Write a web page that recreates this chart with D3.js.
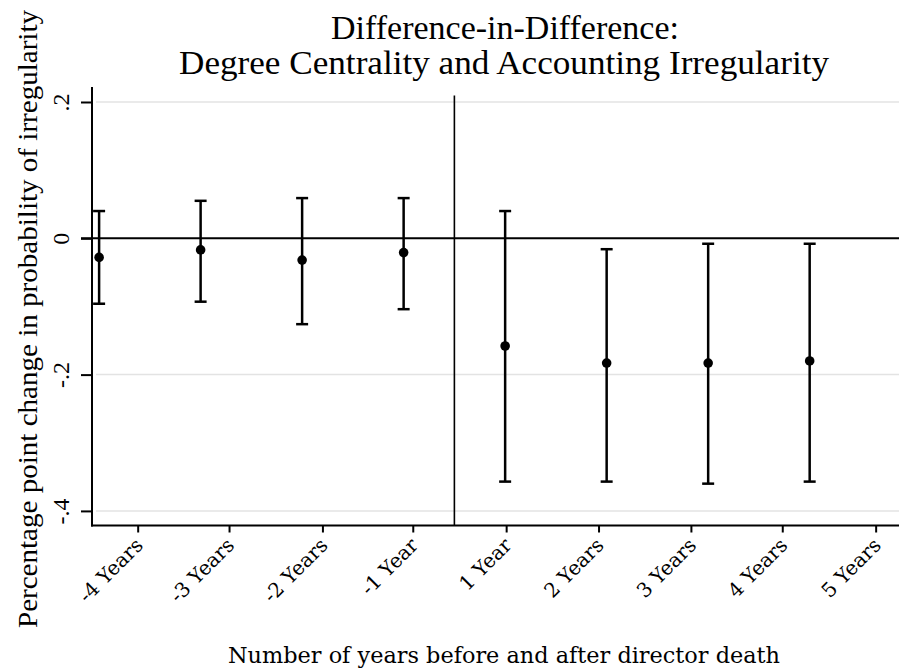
<!DOCTYPE html>
<html>
<head>
<meta charset="utf-8">
<script src="https://cdn.jsdelivr.net/npm/d3@7"></script>
<style>
  body { margin: 0; background: #fff; }
  svg { display: block; }
  .times { font-family: "Liberation Serif", "Times New Roman", Times, serif; }
  .slab { font-family: "DejaVu Serif", serif; }
</style>
</head>
<body>
<svg width="899" height="670"></svg>
<script>
// event time (index) for each estimate
var periods = [1, 2, 3, 4, 5, 6, 7, 8];
var coef    = [-0.028, -0.017, -0.032, -0.021, -0.158, -0.183, -0.183, -0.180];
var ciHigh  = [0.040, 0.055, 0.059, 0.059, 0.040, -0.016, -0.008, -0.008];
var ciLow   = [-0.096, -0.093, -0.126, -0.104, -0.357, -0.357, -0.360, -0.357];

var xTickPos    = [1.38, 2.28, 3.20, 4.09, 5.01, 5.92, 6.83, 7.73, 8.65];
var xTickLabels = ["-4 Years", "-3 Years", "-2 Years", "-1 Year", "1 Year", "2 Years", "3 Years", "4 Years", "5 Years"];
var yTicks      = [0.2, 0, -0.2, -0.4];
var yTickLabels = [".2", "0", "-.2", "-.4"];
var eventLine   = 4.5;

var svg = d3.select("svg");

var plotL = 92, plotR = 899, plotT = 87, plotB = 525.5;

var x = d3.scaleLinear().domain([0.93, 8.88]).range([plotL, plotR]);
var y = d3.scaleLinear().domain([-0.4214, 0.222]).range([plotB, plotT]);

// grid lines
svg.append("g").selectAll("line")
    .data(yTicks.filter(function(d) { return d !== 0; }))
  .enter().append("line")
    .attr("x1", plotL + 4).attr("x2", plotR)
    .attr("y1", function(d) { return y(d); })
    .attr("y2", function(d) { return y(d); })
    .attr("stroke", "#e3e3e3")
    .attr("stroke-width", 1.5);

// zero line
svg.append("line")
    .attr("x1", plotL - 11).attr("x2", plotR)
    .attr("y1", y(0)).attr("y2", y(0))
    .attr("stroke", "#000").attr("stroke-width", 2);

// vertical line at director death
svg.append("line")
    .attr("x1", x(eventLine)).attr("x2", x(eventLine))
    .attr("y1", 95.5).attr("y2", plotB)
    .attr("stroke", "#000").attr("stroke-width", 1.6);

// y axis
var yAxis = d3.axisLeft(y)
    .tickValues(yTicks)
    .tickSize(11)
    .tickFormat(function(d, i) { return yTickLabels[i]; });

var gy = svg.append("g")
    .attr("transform", "translate(" + plotL + ",0)")
    .call(yAxis);
gy.attr("font-family", null).attr("font-size", null);
gy.select(".domain").remove();
gy.selectAll(".tick line").attr("stroke", "#000").attr("stroke-width", 2);
gy.append("line")
    .attr("x1", 0).attr("x2", 0)
    .attr("y1", plotT).attr("y2", plotB + 1)
    .attr("stroke", "#000").attr("stroke-width", 2);
gy.selectAll(".tick text")
    .attr("x", null).attr("dy", null)
    .attr("class", "times")
    .attr("transform", "translate(-23,0) rotate(-90)")
    .attr("text-anchor", "middle")
    .attr("fill", "#000")
    .style("font-size", "24px");

// x axis
var xAxis = d3.axisBottom(x)
    .tickValues(xTickPos)
    .tickSize(7)
    .tickFormat(function(d, i) { return xTickLabels[i]; });

var gx = svg.append("g")
    .attr("transform", "translate(0," + plotB + ")")
    .call(xAxis);
gx.attr("font-family", null).attr("font-size", null);
gx.select(".domain").remove();
gx.selectAll(".tick line").attr("stroke", "#000").attr("stroke-width", 2);
gx.append("line")
    .attr("x1", plotL - 1).attr("x2", plotR)
    .attr("y1", 0).attr("y2", 0)
    .attr("stroke", "#000").attr("stroke-width", 2);
gx.selectAll(".tick text")
    .attr("y", null).attr("dy", null)
    .attr("class", "slab")
    .attr("transform", "translate(6,21) rotate(-45)")
    .attr("text-anchor", "end")
    .attr("fill", "#000")
    .style("font-size", "20px");

// error bars
var bars = svg.append("g").selectAll("g")
    .data(periods)
  .enter().append("g");

bars.append("line")
    .attr("x1", function(d) { return x(d); })
    .attr("x2", function(d) { return x(d); })
    .attr("y1", function(d, i) { return y(ciHigh[i]); })
    .attr("y2", function(d, i) { return y(ciLow[i]); })
    .attr("stroke", "#000").attr("stroke-width", 2.5);

bars.append("line")
    .attr("x1", function(d) { return x(d) - 6; })
    .attr("x2", function(d) { return x(d) + 6; })
    .attr("y1", function(d, i) { return y(ciHigh[i]); })
    .attr("y2", function(d, i) { return y(ciHigh[i]); })
    .attr("stroke", "#000").attr("stroke-width", 2.5);

bars.append("line")
    .attr("x1", function(d) { return x(d) - 6; })
    .attr("x2", function(d) { return x(d) + 6; })
    .attr("y1", function(d, i) { return y(ciLow[i]); })
    .attr("y2", function(d, i) { return y(ciLow[i]); })
    .attr("stroke", "#000").attr("stroke-width", 2.5);

bars.append("circle")
    .attr("cx", function(d) { return x(d); })
    .attr("cy", function(d, i) { return y(coef[i]); })
    .attr("r", 4.8)
    .attr("fill", "#000");

// titles
svg.append("text")
    .attr("class", "times")
    .attr("x", 505).attr("y", 39)
    .attr("text-anchor", "middle")
    .style("font-size", "34px")
    .text("Difference-in-Difference:");

svg.append("text")
    .attr("class", "times")
    .attr("x", 504).attr("y", 74)
    .attr("text-anchor", "middle")
    .style("font-size", "34px")
    .attr("textLength", 650).attr("lengthAdjust", "spacingAndGlyphs")
    .text("Degree Centrality and Accounting Irregularity");

svg.append("text")
    .attr("class", "times")
    .attr("transform", "translate(37,319) rotate(-90)")
    .attr("text-anchor", "middle")
    .attr("textLength", 618).attr("lengthAdjust", "spacingAndGlyphs")
    .style("font-size", "28px")
    .text("Percentage point change in probability of irregularity");

svg.append("text")
    .attr("class", "slab")
    .attr("x", 504).attr("y", 663)
    .attr("text-anchor", "middle")
    .attr("textLength", 552).attr("lengthAdjust", "spacingAndGlyphs")
    .style("font-size", "22px")
    .text("Number of years before and after director death");
</script>
</body>
</html>
